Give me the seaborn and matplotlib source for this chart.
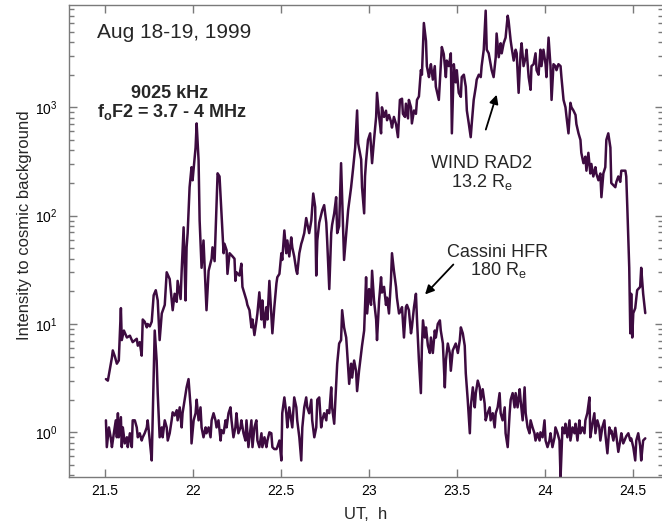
import matplotlib
matplotlib.use("Agg")
import matplotlib.pyplot as plt
import pandas as pd
import seaborn as sns
from matplotlib.ticker import FixedLocator, NullLocator, LogLocator

# WIND RAD2, 13.2 Re (upper trace)
wind_t = [
    21.506, 21.517, 21.540, 21.545, 21.557, 21.568, 21.579, 21.591, 21.596, 21.608,
    21.625, 21.642, 21.658, 21.681, 21.687, 21.698, 21.709, 21.715, 21.726, 21.738,
    21.743, 21.755, 21.766, 21.777, 21.789, 21.800, 21.811, 21.823, 21.840, 21.851,
    21.868, 21.885, 21.896, 21.908, 21.913, 21.930, 21.936, 21.947, 21.958, 21.964,
    21.970, 21.981, 21.992, 21.998, 22.015, 22.021, 22.032, 22.038, 22.049, 22.060,
    22.077, 22.089, 22.106, 22.111, 22.123, 22.140, 22.151, 22.162, 22.168, 22.174,
    22.179, 22.191, 22.196, 22.208, 22.225, 22.236, 22.241, 22.247, 22.264, 22.275,
    22.281, 22.304, 22.309, 22.321, 22.332, 22.338, 22.349, 22.360, 22.366, 22.377,
    22.389, 22.394, 22.406, 22.417, 22.423, 22.434, 22.445, 22.451, 22.462, 22.474,
    22.479, 22.491, 22.502, 22.507, 22.519, 22.530, 22.536, 22.547, 22.558, 22.564,
    22.575, 22.587, 22.592, 22.604, 22.615, 22.621, 22.632, 22.643, 22.660, 22.672,
    22.683, 22.694, 22.700, 22.706, 22.717, 22.734, 22.745, 22.757, 22.762, 22.774,
    22.785, 22.790, 22.802, 22.813, 22.819, 22.830, 22.841, 22.853, 22.858, 22.864,
    22.870, 22.881, 22.898, 22.909, 22.921, 22.932, 22.938, 22.955, 22.960, 22.972,
    22.977, 22.983, 22.994, 23.006, 23.017, 23.028, 23.040, 23.045, 23.057, 23.068,
    23.073, 23.085, 23.096, 23.102, 23.113, 23.124, 23.130, 23.141, 23.153, 23.164,
    23.175, 23.187, 23.192, 23.204, 23.209, 23.221, 23.226, 23.238, 23.243, 23.255,
    23.266, 23.272, 23.283, 23.294, 23.300, 23.311, 23.323, 23.328, 23.340, 23.345,
    23.351, 23.362, 23.373, 23.379, 23.396, 23.413, 23.424, 23.436, 23.441, 23.453,
    23.464, 23.470, 23.481, 23.492, 23.498, 23.509, 23.521, 23.526, 23.538, 23.549,
    23.555, 23.566, 23.577, 23.583, 23.594, 23.606, 23.611, 23.623, 23.634, 23.639,
    23.651, 23.662, 23.668, 23.679, 23.690, 23.696, 23.707, 23.719, 23.724, 23.736,
    23.747, 23.753, 23.764, 23.775, 23.787, 23.792, 23.804, 23.809, 23.821, 23.832,
    23.838, 23.849, 23.860, 23.866, 23.877, 23.889, 23.894, 23.906, 23.917, 23.922,
    23.934, 23.945, 23.951, 23.962, 23.973, 23.979, 23.990, 24.002, 24.007, 24.019,
    24.030, 24.036, 24.047, 24.058, 24.064, 24.075, 24.087, 24.092, 24.104, 24.115,
    24.121, 24.132, 24.143, 24.149, 24.160, 24.172, 24.177, 24.189, 24.200, 24.205,
    24.217, 24.228, 24.234, 24.245, 24.256, 24.262, 24.273, 24.285, 24.290, 24.302,
    24.313, 24.319, 24.330, 24.341, 24.347, 24.358, 24.370, 24.375, 24.398, 24.404,
    24.415, 24.426, 24.432, 24.455, 24.460, 24.466, 24.477, 24.483, 24.488, 24.494,
    24.500, 24.511, 24.522, 24.539, 24.545, 24.556, 24.568,
]
wind_i = [
    3.1, 3.0, 4.9, 5.7, 5.0, 4.3, 4.6, 14, 7.1, 8.7,
    7.5, 7.8, 6.8, 7.3, 6.3, 6.8, 5.1, 11, 10.5, 9.3,
    10, 9.5, 10.5, 18.4, 20.5, 16.5, 7.1, 12.5, 15, 30,
    26, 13.4, 19, 16, 25, 17, 31, 78, 16.5, 51,
    69, 183, 280, 212, 425, 710, 324, 90, 33, 59,
    13.4, 31, 40, 51, 38, 246, 230, 105, 70, 45,
    55, 48, 29, 45, 42, 40, 25, 30, 28, 36,
    22, 16.5, 15, 13.4, 9.3, 11, 7.9, 10.5, 12.5, 19.6,
    11, 16.5, 9.3, 14.3, 11, 25, 12, 8.2, 14.3, 23.7,
    27, 29, 45, 39, 73, 45, 59, 42, 63, 51,
    42, 31, 29, 45, 55, 59, 69, 95, 69, 90,
    160, 120, 28, 59, 86, 112, 125, 86, 59, 21,
    69, 82, 105, 148, 69, 80, 305, 69, 39, 51,
    65, 112, 183, 270, 425, 935, 465, 330, 183, 105,
    230, 320, 500, 575, 305, 500, 815, 1360, 815, 575,
    1000, 815, 930, 760, 850, 740, 650, 815, 700, 530,
    1170, 1200, 870, 815, 1080, 790, 1170, 1000, 710, 935,
    870, 1170, 1260, 2200, 2000, 6000, 4100, 2400, 1900, 2200,
    2500, 1800, 2400, 1550, 1170, 3600, 3100, 1900, 2700, 2400,
    3150, 575, 2500, 1700, 2200, 1360, 1250, 1900, 2000, 1550,
    935, 710, 530, 710, 1170, 1550, 1800, 2000, 1900, 2400,
    3400, 7800, 3400, 3150, 2500, 2200, 1900, 2900, 4800, 2900,
    3900, 3150, 3900, 4400, 7000, 6300, 4100, 3600, 2700, 3400,
    3150, 1360, 3150, 3900, 2400, 2900, 3400, 1900, 1450, 2400,
    2500, 3150, 2200, 2000, 3400, 2400, 3400, 2500, 1900, 4400,
    2400, 1170, 2500, 2400, 2200, 2500, 2400, 1900, 1170, 1000,
    815, 575, 1100, 1000, 935, 850, 700, 575, 500, 380,
    305, 350, 260, 380, 245, 300, 230, 280, 245, 212,
    245, 148, 245, 280, 500, 575, 425, 200, 183, 205,
    230, 205, 260, 260, 230, 120, 33, 8.2, 19, 7.5,
    12.6, 14, 20.5, 22, 33, 19, 12.6,
]

# Cassini HFR, 180 Re (lower trace)
cassini_t = [
    21.506, 21.511, 21.523, 21.534, 21.540, 21.551, 21.562, 21.568, 21.574, 21.579,
    21.591, 21.596, 21.602, 21.613, 21.625, 21.630, 21.642, 21.653, 21.658, 21.670,
    21.681, 21.687, 21.698, 21.709, 21.715, 21.726, 21.738, 21.743, 21.755, 21.766,
    21.772, 21.783, 21.794, 21.800, 21.811, 21.823, 21.828, 21.840, 21.851, 21.857,
    21.868, 21.879, 21.885, 21.896, 21.908, 21.913, 21.925, 21.936, 21.941, 21.953,
    21.964, 21.975, 21.987, 21.992, 22.004, 22.015, 22.021, 22.032, 22.043, 22.049,
    22.060, 22.072, 22.077, 22.089, 22.100, 22.106, 22.117, 22.128, 22.134, 22.145,
    22.157, 22.162, 22.174, 22.185, 22.191, 22.202, 22.213, 22.219, 22.230, 22.241,
    22.247, 22.258, 22.270, 22.275, 22.287, 22.298, 22.304, 22.315, 22.332, 22.338,
    22.349, 22.360, 22.366, 22.377, 22.389, 22.394, 22.406, 22.417, 22.423, 22.434,
    22.445, 22.451, 22.462, 22.474, 22.479, 22.491, 22.502, 22.507, 22.519, 22.530,
    22.536, 22.547, 22.558, 22.564, 22.575, 22.587, 22.592, 22.604, 22.615, 22.621,
    22.632, 22.643, 22.649, 22.660, 22.672, 22.677, 22.689, 22.700, 22.706, 22.717,
    22.728, 22.734, 22.745, 22.757, 22.762, 22.774, 22.785, 22.790, 22.802, 22.813,
    22.819, 22.830, 22.841, 22.847, 22.858, 22.870, 22.875, 22.887, 22.898, 22.904,
    22.915, 22.926, 22.932, 22.943, 22.955, 22.960, 22.972, 22.983, 22.989, 23.000,
    23.011, 23.017, 23.028, 23.040, 23.045, 23.057, 23.068, 23.073, 23.085, 23.096,
    23.102, 23.113, 23.124, 23.130, 23.141, 23.153, 23.158, 23.170, 23.181, 23.187,
    23.198, 23.209, 23.215, 23.226, 23.238, 23.243, 23.255, 23.266, 23.272, 23.283,
    23.294, 23.300, 23.306, 23.317, 23.323, 23.334, 23.345, 23.351, 23.362, 23.373,
    23.379, 23.390, 23.402, 23.407, 23.419, 23.430, 23.436, 23.447, 23.458, 23.464,
    23.475, 23.487, 23.492, 23.504, 23.515, 23.521, 23.532, 23.543, 23.549, 23.560,
    23.572, 23.577, 23.589, 23.600, 23.606, 23.617, 23.628, 23.634, 23.645, 23.656,
    23.662, 23.673, 23.685, 23.690, 23.702, 23.713, 23.719, 23.730, 23.741, 23.747,
    23.758, 23.770, 23.775, 23.787, 23.798, 23.804, 23.815, 23.826, 23.832, 23.843,
    23.855, 23.860, 23.872, 23.883, 23.889, 23.900, 23.911, 23.917, 23.928, 23.939,
    23.945, 23.956, 23.968, 23.973, 23.985, 23.996, 24.002, 24.013, 24.024, 24.030,
    24.041, 24.053, 24.058, 24.070, 24.081, 24.087, 24.098, 24.109, 24.115, 24.126,
    24.138, 24.143, 24.155, 24.166, 24.172, 24.183, 24.194, 24.200, 24.211, 24.223,
    24.228, 24.239, 24.251, 24.256, 24.268, 24.279, 24.285, 24.296, 24.307, 24.313,
    24.324, 24.336, 24.341, 24.353, 24.364, 24.370, 24.375, 24.387, 24.398, 24.404,
    24.415, 24.426, 24.432, 24.443, 24.455, 24.460, 24.472, 24.483, 24.488, 24.500,
    24.511, 24.517, 24.528, 24.539, 24.545, 24.556, 24.568,
]
cassini_i = [
    1.29, 0.73, 1.11, 0.88, 0.73, 0.98, 1.29, 0.90, 1.5, 0.90,
    1.38, 0.73, 1.11, 0.79, 0.90, 0.73, 0.98, 0.73, 1.29, 1.29,
    1.11, 0.90, 0.98, 0.84, 0.90, 0.98, 1.11, 1.29, 0.84, 0.55,
    1.5, 8.7, 4.6, 2.3, 0.90, 1.11, 0.90, 1.29, 1.11, 0.84,
    0.98, 1.29, 1.53, 1.43, 1.6, 1.29, 1.7, 1.11, 1.5, 2.0,
    2.6, 3.1, 1.7, 0.79, 1.29, 1.5, 2.0, 1.29, 1.7, 1.11,
    0.90, 1.11, 0.98, 1.11, 0.90, 1.29, 1.5, 1.29, 1.11, 1.29,
    0.84, 1.05, 0.98, 1.29, 1.11, 1.5, 1.7, 1.29, 0.90, 1.11,
    1.5, 0.98, 1.11, 1.29, 0.98, 0.84, 1.29, 0.73, 1.29, 0.73,
    1.11, 1.29, 0.84, 0.73, 0.98, 0.73, 0.90, 0.73, 0.84, 1.0,
    0.98, 0.73, 0.70, 0.70, 0.73, 0.84, 0.55, 1.5, 2.1, 1.5,
    1.11, 1.7, 1.29, 1.11, 2.1, 1.7, 1.29, 0.90, 0.55, 1.11,
    1.7, 2.1, 1.7, 1.5, 2.0, 1.29, 0.90, 1.11, 2.0, 2.1,
    1.11, 1.29, 1.5, 1.29, 1.6, 1.5, 2.6, 1.7, 1.2, 2.8,
    4.3, 6.6, 7.1, 13.4, 9.3, 7.5, 5.7, 2.8, 4.3, 3.2,
    4.6, 3.7, 2.4, 3.7, 5.4, 6.3, 8.7, 27, 12.5, 21,
    15, 31, 16.5, 11, 7.1, 16.5, 27, 19.5, 22, 15,
    17.5, 12.5, 25, 45, 31, 22, 17.5, 12.5, 13.4, 14.3,
    7.5, 14.3, 15, 13.4, 8.2, 9.3, 14.3, 19, 11, 4.6,
    2.3, 6.3, 10.8, 7.5, 9.3, 6.3, 5.4, 7.5, 5.4, 8.7,
    7.5, 10, 10.8, 8.7, 6.6, 2.6, 4.6, 6.6, 5.4, 3.7,
    5.7, 6.3, 6.6, 5.4, 7.1, 9.3, 8.2, 6.3, 3.5, 2.0,
    0.98, 1.7, 2.6, 1.7, 2.3, 3.0, 2.6, 2.0, 2.5, 1.85,
    1.29, 1.5, 1.7, 1.29, 1.5, 1.11, 1.5, 1.7, 2.3, 1.5,
    1.29, 1.7, 0.98, 0.73, 1.5, 2.0, 2.3, 1.7, 2.3, 1.7,
    2.5, 2.0, 1.29, 2.6, 1.5, 1.11, 0.98, 1.29, 1.11, 0.98,
    0.84, 0.98, 0.84, 1.0, 0.90, 1.29, 0.84, 0.73, 0.84, 0.98,
    0.73, 0.90, 1.11, 0.98, 0.84, 0.38, 1.11, 0.98, 1.2, 0.90,
    1.29, 0.84, 1.11, 0.98, 1.2, 0.84, 1.29, 0.98, 1.11, 0.98,
    1.29, 1.5, 2.1, 0.90, 1.2, 1.5, 0.98, 1.29, 1.11, 0.84,
    1.11, 1.29, 0.98, 0.64, 1.11, 0.98, 1.04, 0.84, 1.1, 0.92,
    0.66, 0.84, 0.98, 0.79, 0.88, 0.92, 0.98, 0.84, 0.88, 0.73,
    0.55, 0.84, 0.98, 0.75, 0.55, 0.84, 0.88,
]

x_ticks = [21.5, 22, 22.5, 23, 23.5, 24, 24.5]
x_tick_labels = ["21.5", "22", "22.5", "23", "23.5", "24", "24.5"]

sns.set_style("ticks")
plt.rcParams["font.family"] = ["Liberation Sans", "DejaVu Sans"]
plt.rcParams["mathtext.fontset"] = "custom"
plt.rcParams["mathtext.rm"] = "Liberation Sans"
plt.rcParams["mathtext.it"] = "Liberation Sans:italic"
plt.rcParams["mathtext.bf"] = "Liberation Sans:bold"

line_color = "#3d0b40"
frame_color = "#7a7a7a"

fig = plt.figure(figsize=(6.62, 5.25), dpi=100)
ax = fig.add_axes([0.104, 0.091, 0.898, 0.899])

wind = pd.DataFrame({"ut": wind_t, "intensity": wind_i})
cassini = pd.DataFrame({"ut": cassini_t, "intensity": cassini_i})
for df in (wind, cassini):
    sns.lineplot(data=df, x="ut", y="intensity", ax=ax, color=line_color,
                 linewidth=1.8, estimator=None, sort=False)

ax.set_yscale("log")
ax.set_xlim(21.2955, 24.6705)
ax.set_ylim(0.385, 8750)

ax.xaxis.set_major_locator(FixedLocator(x_ticks))
ax.set_xticklabels(x_tick_labels)
ax.yaxis.set_minor_locator(LogLocator(base=10.0, subs=(2, 3, 4, 5, 6, 7, 8, 9)))
ax.xaxis.set_minor_locator(NullLocator())

for axis in (ax.xaxis, ax.yaxis):
    axis.set_tick_params(which="major", direction="in", length=6, width=1.0,
                         color=frame_color, labelsize=10, labelcolor="black")
    axis.set_tick_params(which="minor", direction="in", length=3.5, width=1.0,
                         color=frame_color)
ax.tick_params(axis="x", which="both", bottom=True, top=True, pad=5)
ax.tick_params(axis="y", which="both", left=True, right=True, pad=8)
for sp in ax.spines.values():
    sp.set_color(frame_color)
    sp.set_linewidth(1.0)

ax.set_xlabel("UT,  h", fontsize=12, labelpad=6)
ax.set_ylabel("Intensity to cosmic background", fontsize=12)
ax.yaxis.set_label_coords(-0.062, 0.535)

tr = ax.transAxes
ax.text(0.047, 0.943, "Aug 18-19, 1999", transform=tr, fontsize=15,
        ha="left", va="center")
ax.text(0.170, 0.814, "9025 kHz", transform=tr, fontsize=13,
        fontweight="bold", ha="center", va="center")
ax.text(0.047, 0.773, r"f$_{\mathbf{o}}$F2 = 3.7 - 4 MHz", transform=tr,
        fontsize=13, fontweight="bold", ha="left", va="center")
ax.text(0.694, 0.665, "WIND RAD2", transform=tr, fontsize=13,
        ha="center", va="center")
ax.text(0.694, 0.625, r"13.2 R$_\mathrm{e}$", transform=tr, fontsize=13,
        ha="center", va="center")
ax.text(0.722, 0.477, "Cassini HFR", transform=tr, fontsize=13,
        ha="center", va="center")
ax.text(0.722, 0.440, r"180 R$_\mathrm{e}$", transform=tr, fontsize=13,
        ha="center", va="center")

arrow = dict(arrowstyle="-|>", color="black", lw=1.3, mutation_scale=13)
ax.annotate("", xy=(0.721, 0.816), xytext=(0.700, 0.731),
            xycoords="axes fraction", textcoords="axes fraction", arrowprops=arrow)
ax.annotate("", xy=(0.596, 0.383), xytext=(0.650, 0.455),
            xycoords="axes fraction", textcoords="axes fraction", arrowprops=arrow)

fig.savefig("out.png", dpi=100)
